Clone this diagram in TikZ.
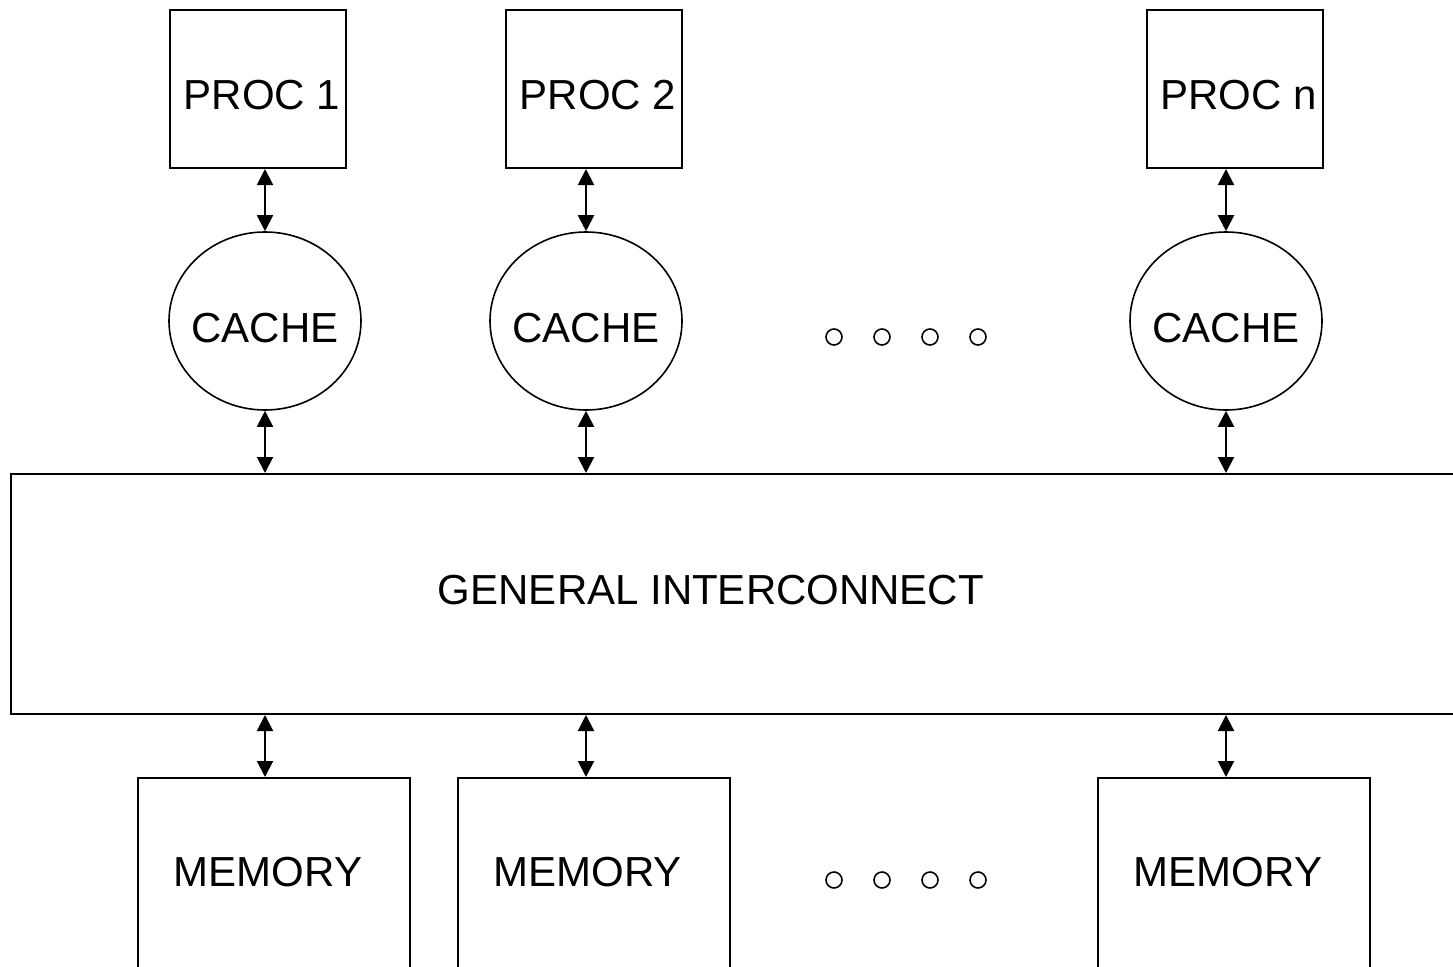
\documentclass[tikz,border=0pt]{standalone}
\usepackage{fontspec}
\setmainfont{Liberation Sans}
\usetikzlibrary{shapes.geometric,arrows.meta}
\begin{document}
\begin{tikzpicture}[x=1pt,y=-1pt,
  every node/.style={font=\fontsize{42}{50}\selectfont},
  procbox/.style={draw,line width=2pt,minimum width=176pt,minimum height=158pt,inner sep=0pt,text height=40pt,text depth=0pt},
  cachebox/.style={draw,ellipse,line width=1.6pt,minimum width=192pt,minimum height=178pt,inner xsep=-12pt,inner ysep=0pt,text height=42pt,text depth=0pt},
  membox/.style={draw,line width=2pt,minimum width=272pt,inner sep=0pt,text height=108pt,text depth=115pt,anchor=north},
  icbox/.style={draw,line width=2pt,minimum width=1470pt,minimum height=240pt,inner sep=0pt,anchor=north west},
  dotc/.style={draw,circle,line width=1.6pt,minimum size=16pt,inner sep=0pt},
  biarrow/.style={line width=2pt,{Triangle[width=16pt,length=16pt]}-{Triangle[width=16pt,length=16pt]}}
]
\useasboundingbox (0,0) rectangle (1453,966);
\clip (0,0) rectangle (1453,966);
% processors
\node[procbox] (proc1) at (258,89) {\hspace*{8pt}PROC 1};
\node[procbox] (proc2) at (594,89) {\hspace*{8pt}PROC 2};
\node[procbox] (procn) at (1234.5,89) {\hspace*{8pt}PROC n};
% caches
\node[cachebox] (cache1) at (265,321) {CACHE};
\node[cachebox] (cache2) at (586,321) {CACHE};
\node[cachebox] (cachen) at (1226,321) {CACHE};
% interconnect
\node[icbox] (ic) at (10,473) {};
\node (ictext) at (711,590) {GENERAL INTERCONNECT};
% memories
\node[membox] (mem1) at (274,777) {MEMORY\hspace*{12pt}};
\node[membox] (mem2) at (593.5,777) {MEMORY\hspace*{12pt}};
\node[membox] (mem3) at (1234,777) {MEMORY\hspace*{12pt}};
% dots
\node[dotc] (a1) at (834,337) {};
\node[dotc] (a2) at (882,337) {};
\node[dotc] (a3) at (930,337) {};
\node[dotc] (a4) at (978,337) {};
\node[dotc] (b1) at (834,880) {};
\node[dotc] (b2) at (882,880) {};
\node[dotc] (b3) at (930,880) {};
\node[dotc] (b4) at (978,880) {};
% connectors
\draw[biarrow] (cache1.north |- proc1.south) -- (cache1.north);
\draw[biarrow] (cache2.north |- proc2.south) -- (cache2.north);
\draw[biarrow] (cachen.north |- procn.south) -- (cachen.north);
\draw[biarrow] (cache1.south) -- (cache1.south |- ic.north);
\draw[biarrow] (cache2.south) -- (cache2.south |- ic.north);
\draw[biarrow] (cachen.south) -- (cachen.south |- ic.north);
\draw[biarrow] (cache1.south |- ic.south) -- (cache1.south |- mem1.north);
\draw[biarrow] (cache2.south |- ic.south) -- (cache2.south |- mem2.north);
\draw[biarrow] (cachen.south |- ic.south) -- (cachen.south |- mem3.north);
\end{tikzpicture}
\end{document}
